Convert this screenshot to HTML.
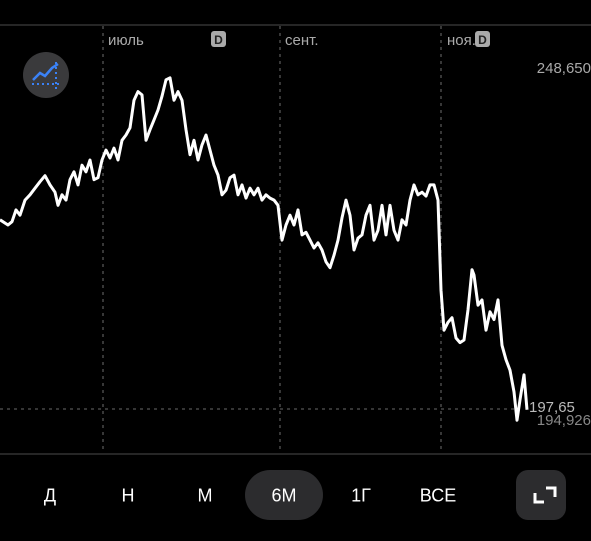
<!DOCTYPE html>
<html><head><meta charset="utf-8"><style>
body{margin:0;background:#000;width:591px;height:541px;overflow:hidden;font-family:"Liberation Sans",sans-serif;position:relative}
.t{position:absolute;color:#fff;font-size:18px;transform:translate(-50%,-50%)}
</style></head><body>
<svg id="chart" width="591" height="541" style="position:absolute;left:0;top:0">
<line x1="0" y1="25" x2="591" y2="25" stroke="#333" stroke-width="1.5"/>
<line x1="0" y1="454" x2="591" y2="454" stroke="#333" stroke-width="1.5"/>
<g stroke="#555" stroke-dasharray="3,4" stroke-width="1.3">
<line x1="103" y1="26" x2="103" y2="453"/><line x1="280" y1="26" x2="280" y2="453"/><line x1="441" y1="26" x2="441" y2="453"/>
<line x1="0" y1="409" x2="520" y2="409"/>
</g>
<text x="108" y="45" fill="#aaa" font-size="15">июль</text>
<text x="285" y="45" fill="#aaa" font-size="15">сент.</text>
<text x="447" y="45" fill="#aaa" font-size="15">ноя.</text>
<rect x="211" y="31" width="15" height="16" rx="3" fill="#aaa"/><text x="218.5" y="44" fill="#222" font-size="12" font-weight="bold" text-anchor="middle">D</text>
<rect x="475" y="31" width="15" height="16" rx="3" fill="#aaa"/><text x="482.5" y="44" fill="#222" font-size="12" font-weight="bold" text-anchor="middle">D</text>
<text x="591" y="73" fill="#aaa" font-size="15" text-anchor="end">248,650</text>
<text x="591" y="425" fill="#888" font-size="15" text-anchor="end">194,926</text>
<text x="529" y="412" fill="#bbb" font-size="15">197,65</text>
<circle cx="46" cy="75" r="23" fill="#3a3a3c"/>
<polyline points="33,80 40,73 45,76 52,68 58,64" fill="none" stroke="#3b82f6" stroke-width="2.5"/>
<line x1="32" y1="84" x2="62" y2="84" stroke="#3b82f6" stroke-width="2" stroke-dasharray="2,3"/>
<line x1="56" y1="62" x2="56" y2="92" stroke="#3b82f6" stroke-width="2" stroke-dasharray="2,3"/>
<path id="line" fill="none" stroke="#fff" stroke-width="3" stroke-linejoin="round"/>
<rect x="245" y="470" width="78" height="50" rx="25" fill="#2c2c2e"/>
<rect x="516" y="470" width="50" height="50" rx="12" fill="#2c2c2e"/>
<path d="M535 493 v9 h9 M546 488 h9 v9" fill="none" stroke="#fff" stroke-width="3"/>
</svg>
<div class="t" style="left:50px;top:496px">Д</div>
<div class="t" style="left:128px;top:496px">Н</div>
<div class="t" style="left:205px;top:496px">М</div>
<div class="t" style="left:284px;top:496px">6М</div>
<div class="t" style="left:361px;top:496px">1Г</div>
<div class="t" style="left:438px;top:496px">ВСЕ</div>
<script>
const times=[0,8,12,16,20,25,30,35,40,45,50,55,58,62,66,70,74,78,82,86,90,94,98,102,106,110,114,118,122,126,130,134,138,142,146,150,154,158,162,166,170,174,178,182,186,190,194,198,202,206,210,214,218,222,226,230,234,238,242,246,250,254,258,262,266,270,274,278,282,286,290,294,298,302,306,310,314,318,322,326,330,334,338,342,346,350,354,358,362,366,370,374,378,382,386,390,394,398,402,406,410,414,418,422,426,430,434,438,441,444,448,452,456,460,464,468,472,474,478,482,486,490,494,498,502,506,510,514,517,520,524,527];
const prices=[225.4,224.6,225.1,226.9,226.1,228.4,229.2,230.2,231.2,232.1,230.7,229.6,227.6,229.2,228.4,231.5,232.7,230.7,233.7,232.7,234.5,231.5,231.8,234.5,236.0,234.8,236.3,234.5,237.5,238.3,239.4,243.6,244.9,244.4,237.5,239.1,240.6,242.1,244.2,246.7,247.0,243.6,244.9,243.6,239.1,235.3,237.5,234.5,236.8,238.3,236.0,233.7,232.2,229.2,229.9,231.8,232.2,229.2,230.7,228.7,230.2,229.2,230.2,228.4,229.2,228.7,228.4,227.6,222.3,224.6,226.1,224.6,226.9,223.1,223.5,222.3,221.1,221.9,220.8,219.0,218.1,220.0,222.3,225.7,228.4,226.1,220.8,222.6,223.1,226.1,227.6,222.3,223.8,227.6,223.1,227.6,223.8,222.3,225.4,224.6,228.4,230.7,229.2,229.6,229.0,230.7,230.7,228.4,214.7,208.6,209.8,210.5,207.4,206.7,207.1,211.7,217.8,217.0,212.4,213.2,208.6,211.4,210.2,213.2,206.3,204.1,202.5,199.2,194.9,198.0,201.8,196.5];
const yMax=248.65,yMin=194.926;
function y(v){return 67+(yMax-v)/(yMax-yMin)*(420-67);}
const n=Math.min(times.length,prices.length);
const tMax=times[n-1];
function x(t){return t/tMax*527;}
let d='';
for(let i=0;i<n;i++){d+=(i?'L':'M')+x(times[i]).toFixed(1)+' '+y(prices[i]).toFixed(1)+' ';}
document.getElementById('line').setAttribute('d',d);
</script>
</body></html>
